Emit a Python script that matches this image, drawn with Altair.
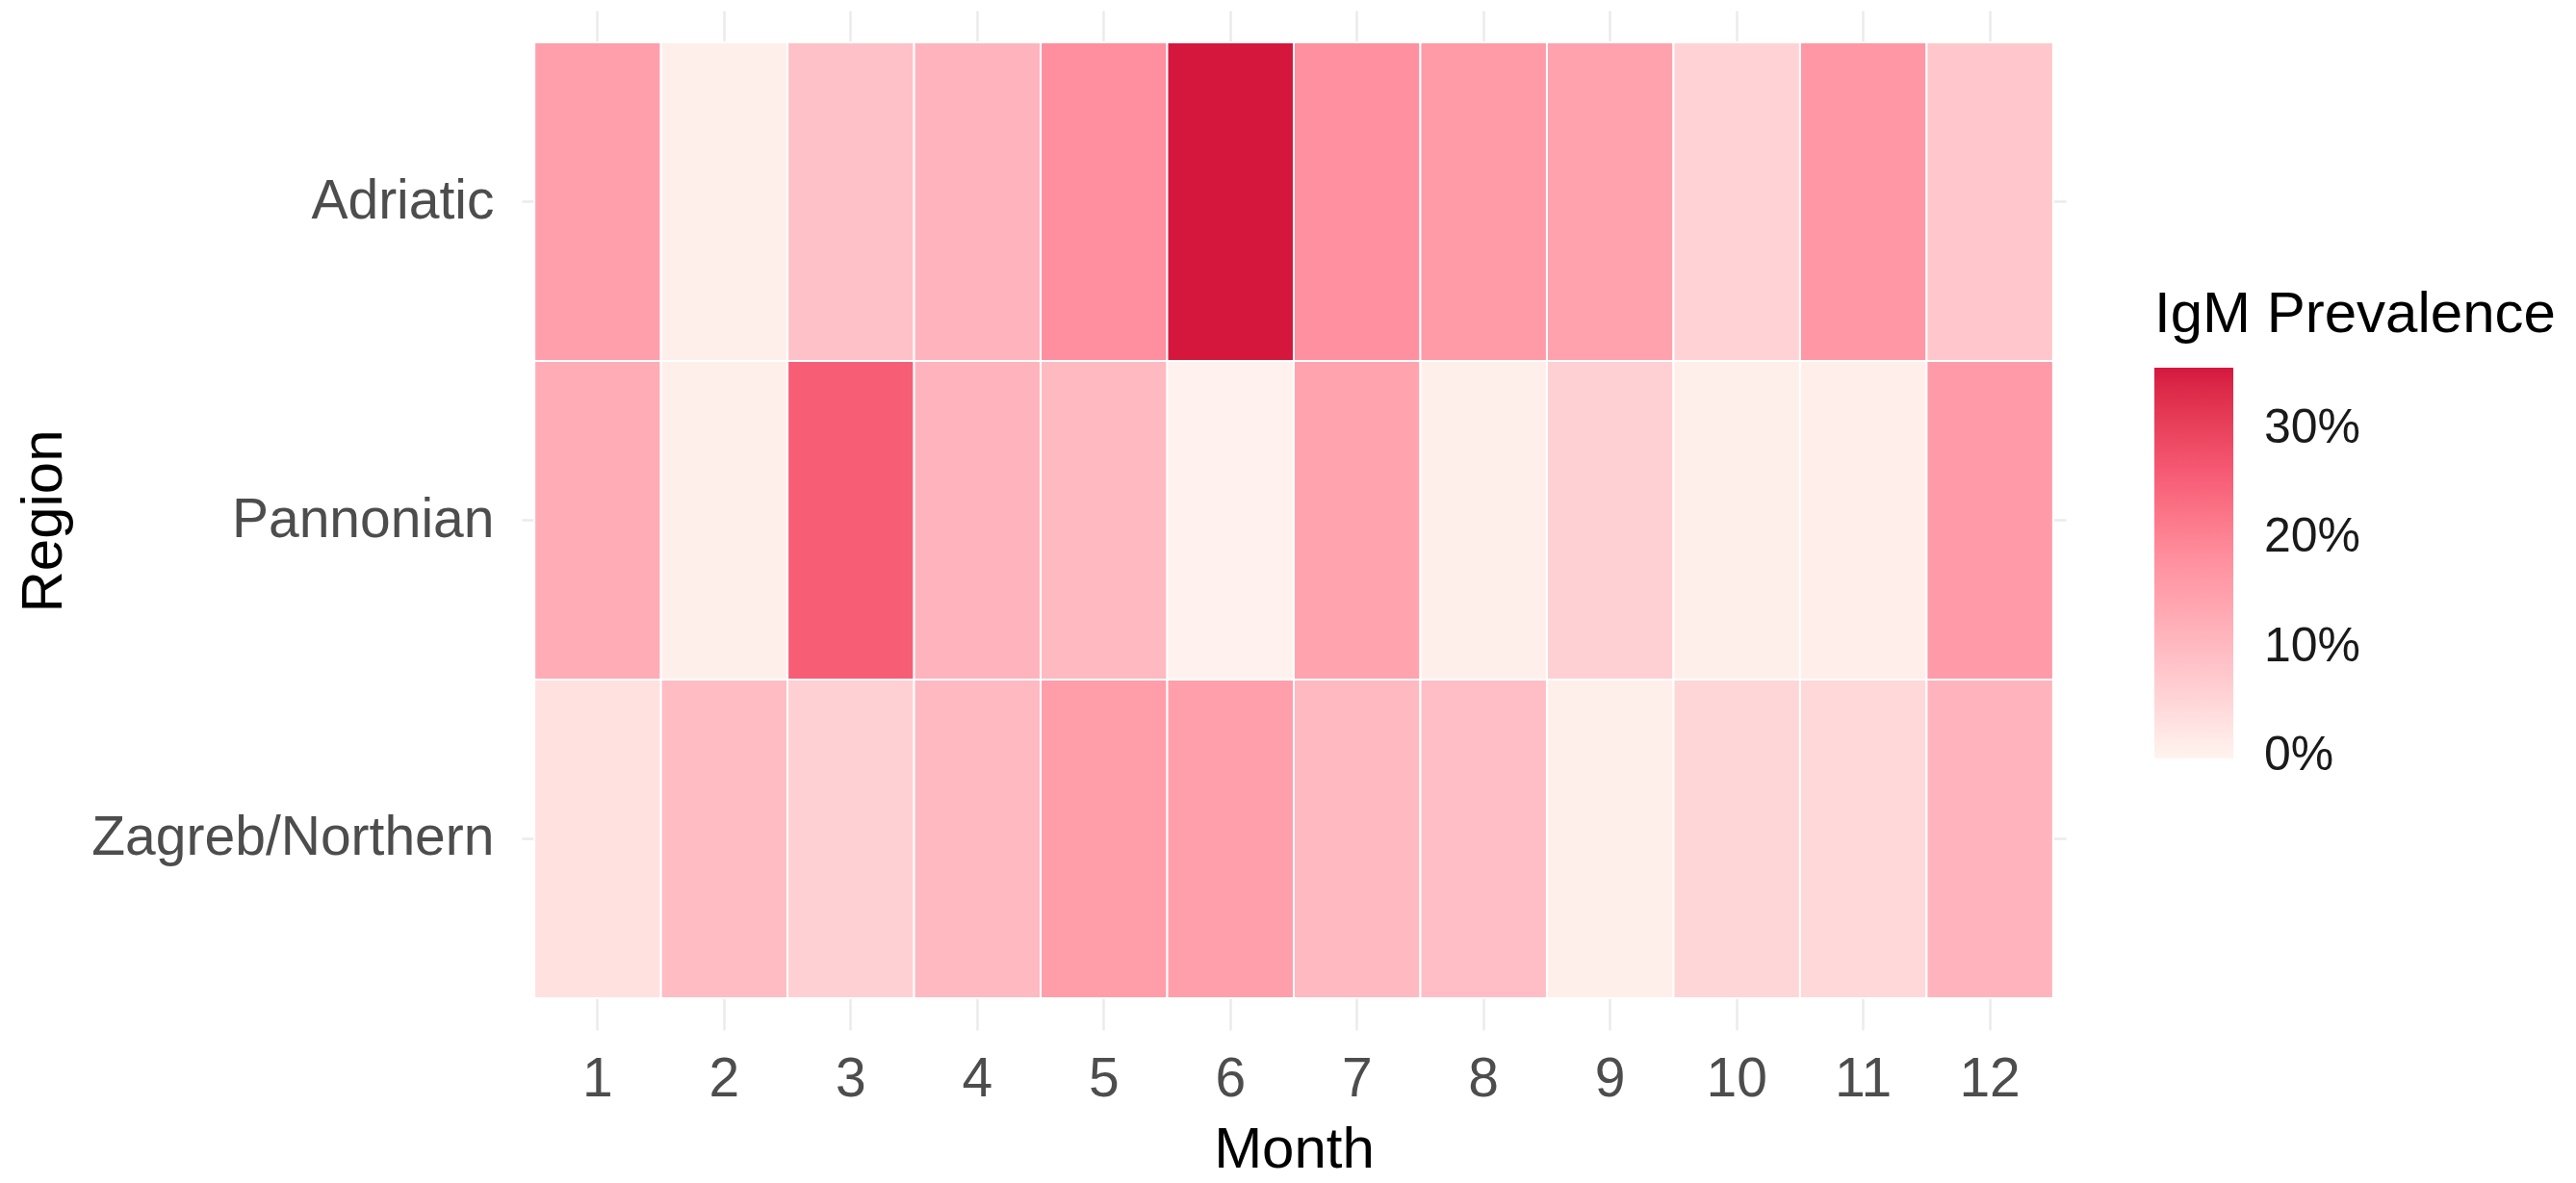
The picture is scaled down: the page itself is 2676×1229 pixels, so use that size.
import altair as alt
import pandas as pd

regions = ["Adriatic", "Pannonian", "Zagreb/Northern"]
months = list(range(1, 13))
adriatic = [0.15, 0.005, 0.085, 0.11, 0.18, 0.356, 0.178, 0.16, 0.145, 0.055, 0.165, 0.075]
pannonian = [0.125, 0.005, 0.255, 0.11, 0.10, 0.0, 0.14, 0.005, 0.06, 0.005, 0.008, 0.158]
zagreb = [0.03, 0.095, 0.06, 0.10, 0.155, 0.15, 0.10, 0.09, 0.005, 0.05, 0.045, 0.11]

legend_ticks = [0, 0.1, 0.2, 0.3]
color_stops = [-0.003, 0.089, 0.178, 0.267, 0.356]
color_range = ["#FFF4EF", "#FFBFC6", "#FF909F", "#F55570", "#D5173E"]

rows = []
for r, vals in zip(regions, [adriatic, pannonian, zagreb]):
    for m, v in zip(months, vals):
        rows.append({"Region": r, "Month": m, "Prev": v})
df = pd.DataFrame(rows)

FONT = "Liberation Sans"

chart = alt.Chart(df).mark_rect(stroke="white", strokeWidth=2).encode(
    x=alt.X(
        "Month:O",
        sort=months,
        scale=alt.Scale(paddingInner=0, paddingOuter=0.1),
        axis=alt.Axis(
            title="Month", labelAngle=0, ticks=False, tickSize=0, domain=False,
            grid=True, gridColor="#EBEBEB", gridWidth=2.5, bandPosition=0.5, zindex=0,
            tickExtra=False,
            labelPadding=23, labelFontSize=57, labelColor="#4D4D4D", labelFont=FONT,
            labelLimit=0,
            titleFontSize=60, titleColor="black", titleFontWeight="normal", titleFont=FONT,
            titleY=142, titleBaseline="alphabetic",
        ),
    ),
    y=alt.Y(
        "Region:N",
        sort=regions,
        scale=alt.Scale(paddingInner=0, paddingOuter=0.1),
        axis=alt.Axis(
            title="Region", ticks=False, tickSize=0, domain=False,
            grid=True, gridColor="#EBEBEB", gridWidth=2.5, bandPosition=0.5, zindex=0,
            tickExtra=False,
            labelPadding=29, labelFontSize=57, labelColor="#4D4D4D", labelFont=FONT,
            labelLimit=0,
            titleFontSize=60, titleColor="black", titleFontWeight="normal", titleFont=FONT,
            titleX=-479, titleY=530, titleBaseline="alphabetic", titleAngle=270,
        ),
    ),
    color=alt.Color(
        "Prev:Q",
        scale=alt.Scale(domain=color_stops, range=color_range, interpolate="lab"),
        legend=alt.Legend(
            title="IgM Prevalence", orient="none", legendX=1696, legendY=287,
            direction="vertical", gradientLength=406, gradientThickness=82,
            values=legend_ticks, format=".0%",
            labelFontSize=50, labelColor="#1A1A1A", labelFont=FONT, labelOffset=32,
            labelLimit=0, titleLimit=0,
            titleFontSize=60, titleFontWeight="normal", titleColor="black", titleFont=FONT,
            titlePadding=24, padding=0, gradientStrokeWidth=0,
        ),
    ),
).properties(
    width=1604,
    height=1059,
    background="white",
    autosize=alt.AutoSizeParams(type="none"),
    padding={"left": 534, "top": 3, "right": 522, "bottom": 158},
).configure_view(strokeWidth=0, stroke="transparent")

chart.save("out.html", embed_options={"renderer": "svg", "actions": False})
